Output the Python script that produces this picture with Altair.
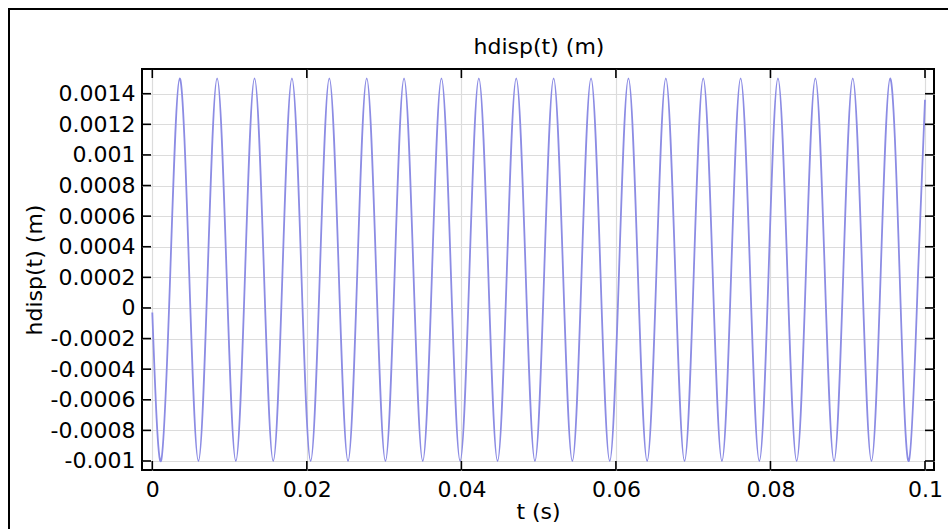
import altair as alt
import pandas as pd

# Sampled readings from the reference curve (peaks, troughs, mid-crossings)
t_s = [0.0, 0.00113, 0.00234, 0.00355, 0.00476, 0.00597, 0.00718, 0.00839, 0.00960,
       0.01081, 0.01202, 0.01323, 0.01444, 0.01565, 0.01686, 0.01807, 0.01928,
       0.02049, 0.02170, 0.02291, 0.02412, 0.02533, 0.02654, 0.02775, 0.02896,
       0.03017, 0.03138, 0.03258, 0.03379, 0.03500, 0.03621, 0.03742, 0.03863,
       0.03984, 0.04105, 0.04226, 0.04347, 0.04468, 0.04589, 0.04710, 0.04831,
       0.04952, 0.05073, 0.05194, 0.05315, 0.05436, 0.05557, 0.05678, 0.05799,
       0.05920, 0.06041, 0.06162, 0.06283, 0.06404, 0.06525, 0.06646, 0.06767,
       0.06888, 0.07009, 0.07130, 0.07251, 0.07372, 0.07493, 0.07614, 0.07735,
       0.07856, 0.07977, 0.08097, 0.08218, 0.08339, 0.08460, 0.08581, 0.08702,
       0.08823, 0.08944, 0.09065, 0.09186, 0.09307, 0.09428, 0.09549, 0.09670,
       0.09791, 0.09912, 0.1]
hdisp_m = [-0.00003, -0.001, 0.00025, 0.0015, 0.00025, -0.001, 0.00025, 0.0015, 0.00025,
           -0.001, 0.00025, 0.0015, 0.00025, -0.001, 0.00025, 0.0015, 0.00025,
           -0.001, 0.00025, 0.0015, 0.00025, -0.001, 0.00025, 0.0015, 0.00025,
           -0.001, 0.00025, 0.0015, 0.00025, -0.001, 0.00025, 0.0015, 0.00025,
           -0.001, 0.00025, 0.0015, 0.00025, -0.001, 0.00025, 0.0015, 0.00025,
           -0.001, 0.00025, 0.0015, 0.00025, -0.001, 0.00025, 0.0015, 0.00025,
           -0.001, 0.00025, 0.0015, 0.00025, -0.001, 0.00025, 0.0015, 0.00025,
           -0.001, 0.00025, 0.0015, 0.00025, -0.001, 0.00025, 0.0015, 0.00025,
           -0.001, 0.00025, 0.0015, 0.00025, -0.001, 0.00025, 0.0015, 0.00025,
           -0.001, 0.00025, 0.0015, 0.00025, -0.001, 0.00025, 0.0015, 0.00025,
           -0.001, 0.00025, 0.00136]

x_ticks = [0, 0.02, 0.04, 0.06, 0.08, 0.1]
y_ticks = [-0.001, -0.0008, -0.0006, -0.0004, -0.0002, 0, 0.0002, 0.0004,
           0.0006, 0.0008, 0.001, 0.0012, 0.0014]
title_text = "hdisp(t) (m)"

W, H = 792, 401
FONT = "DejaVu Sans"
FS = 22

df = pd.DataFrame({"t": t_s, "h": hdisp_m})
xs = alt.Scale(domain=[-0.001333, 0.101165], nice=False, zero=False)
ys = alt.Scale(domain=[-0.0010589, 0.0015615], nice=False, zero=False)

x_axis = alt.Axis(
    values=x_ticks, title="t (s)", labelExpr="'' + datum.value",
    tickSize=0, domain=False, grid=True, gridColor="#dcdcdc", gridWidth=1.2,
    labelOverlap=False, labelFlush=False,
    labelFontSize=FS, labelFont=FONT, labelColor="black", labelPadding=9,
    titleFontSize=FS, titleFont=FONT, titleFontWeight="normal",
    titleColor="black", titlePadding=1)
y_axis = alt.Axis(
    values=y_ticks, title="hdisp(t) (m)", labelExpr="'' + datum.value",
    tickSize=0, domain=False, grid=True, gridColor="#dcdcdc", gridWidth=1.2,
    labelOverlap=False, labelFlush=False,
    labelFontSize=FS, labelFont=FONT, labelColor="black", labelPadding=7,
    titleFontSize=FS, titleFont=FONT, titleFontWeight="normal",
    titleColor="black", titlePadding=4)

line = alt.Chart(df).mark_line(
    color="#8c8ce4", strokeWidth=1.8, interpolate="natural", clip=True
).encode(
    x=alt.X("t:Q", scale=xs, axis=x_axis),
    y=alt.Y("h:Q", scale=ys, axis=y_axis),
)

xt = pd.DataFrame({"t": x_ticks})
yt = pd.DataFrame({"h": y_ticks})
tick_style = dict(color="black", strokeWidth=1.6)

yl = alt.Chart(yt).mark_rule(**tick_style).encode(
    y=alt.Y("h:Q", scale=ys, axis=y_axis), x=alt.value(0), x2=alt.value(9))
yr = alt.Chart(yt).mark_rule(**tick_style).encode(
    y=alt.Y("h:Q", scale=ys, axis=y_axis), x=alt.value(W - 9), x2=alt.value(W))
xb = alt.Chart(xt).mark_rule(**tick_style).encode(
    x=alt.X("t:Q", scale=xs, axis=x_axis), y=alt.value(H), y2=alt.value(H - 9))
xtp = alt.Chart(xt).mark_rule(**tick_style).encode(
    x=alt.X("t:Q", scale=xs, axis=x_axis), y=alt.value(0), y2=alt.value(9))

one = alt.Data(values=[{}])
frame = alt.Chart(one).mark_rect(
    filled=False, stroke="black", strokeWidth=2
).encode(x=alt.value(-133), x2=alt.value(830), y=alt.value(-60), y2=alt.value(490))

title = alt.Chart(one).mark_text(
    text=title_text, font=FONT, fontSize=FS, color="black",
    align="center", baseline="middle"
).encode(x=alt.value(W / 2 + 1), y=alt.value(-22))

chart = alt.layer(line, yl, yr, xb, xtp, frame, title).properties(
    width=W, height=H, background="white",
    autosize=alt.AutoSizeParams(type="none"),
    padding={"left": 142, "top": 69, "right": 14, "bottom": 59},
).configure_view(stroke="black", strokeWidth=2).configure_axis(labelOverlap=False)

chart.save("out.html", embed_options={"renderer": "svg", "actions": False})
